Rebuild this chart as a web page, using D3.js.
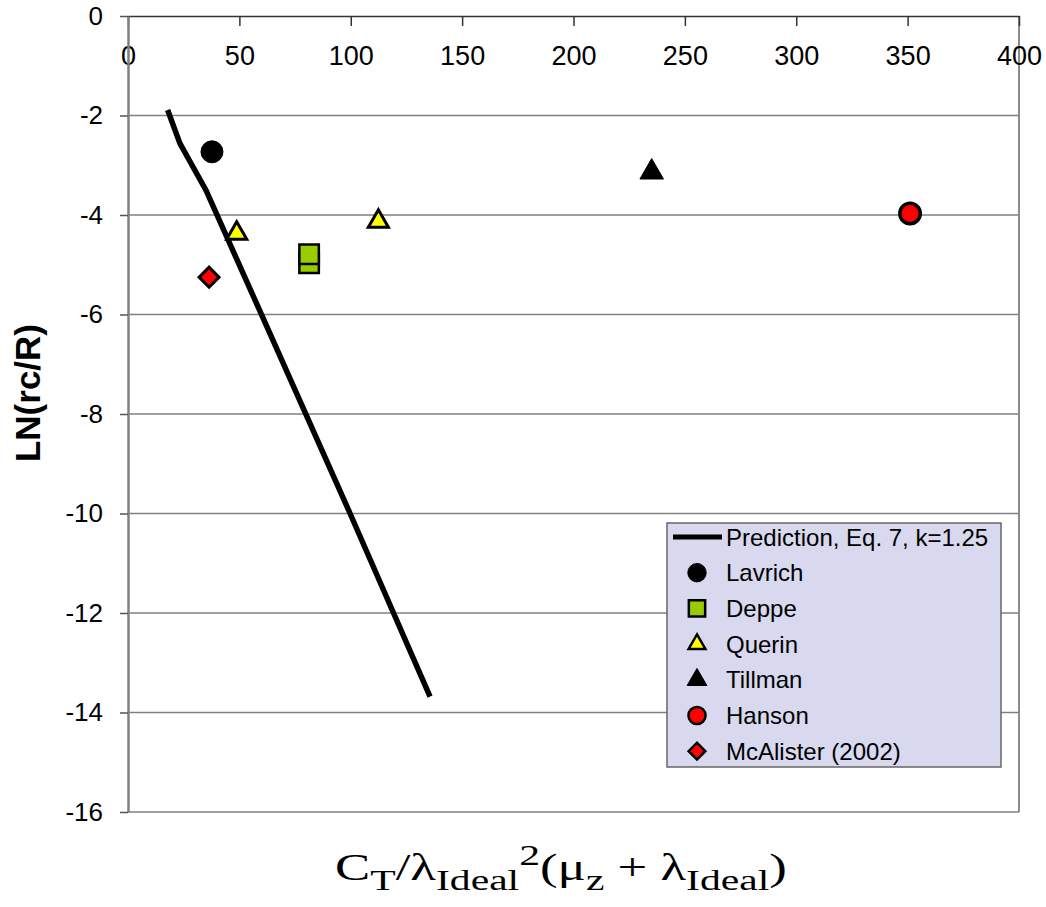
<!DOCTYPE html>
<html>
<head>
<meta charset="utf-8">
<script src="https://cdn.jsdelivr.net/npm/d3@7"></script>
<style>
  body { margin: 0; background: #fff; }
  text { font-family: "Liberation Sans", Arial, sans-serif; }
</style>
</head>
<body>
<div id="chart"></div>
<script>
  // data
  let predictionData = [[17.8, -1.89], [23.3, -2.56], [35, -3.5], [60.6, -6.07], [99.7, -10.0], [135.6, -13.68]];
  let lavrichData = [[37.7, -2.73]];
  let deppeData = [[81.3, -4.97], [81.3, -4.79]];
  let querinData = [[48.8, -4.37], [112.4, -4.13]];
  let tillmanData = [[235.1, -3.14]];
  let hansonData = [[351.1, -3.97]];
  let mcalisterData = [[36.4, -5.25]];

  let xTicks = [0, 50, 100, 150, 200, 250, 300, 350, 400];
  let yTicks = [0, -2, -4, -6, -8, -10, -12, -14, -16];
  let legendLabels = ["Prediction, Eq. 7, k=1.25", "Lavrich", "Deppe", "Querin", "Tillman", "Hanson", "McAlister (2002)"];

  let width = 1046, height = 907;
  let plot = { left: 128, right: 1019, top: 16, bottom: 812 };

  let svg = d3.select("#chart").append("svg")
              .attr("width", width)
              .attr("height", height);

  let x = d3.scaleLinear().domain([0, 400]).range([plot.left, plot.right]);
  let y = d3.scaleLinear().domain([-16, 0]).range([plot.bottom, plot.top]);

  // marker styles per series
  let series = [
    { data: lavrichData, shape: d3.symbolCircle, size: 380, fill: "#000", stroke: "#000", sw: 1, rot: 0 },
    { data: deppeData, shape: d3.symbolSquare, size: 380, fill: "#99cc00", stroke: "#000", sw: 2.5, rot: 0 },
    { data: querinData, shape: d3.symbolTriangle, size: 175, fill: "#ffff00", stroke: "#000", sw: 3, rot: 0 },
    { data: tillmanData, shape: d3.symbolTriangle, size: 240, fill: "#000", stroke: "#000", sw: 1, rot: 0 },
    { data: hansonData, shape: d3.symbolCircle, size: 330, fill: "#ff0000", stroke: "#000", sw: 3.5, rot: 0 },
    { data: mcalisterData, shape: d3.symbolSquare, size: 200, fill: "#ff0000", stroke: "#000", sw: 3, rot: 45 }
  ];

  // gridlines
  svg.append("g")
     .attr("class", "grid")
     .selectAll("line")
     .data(yTicks.filter(d => d < 0))
     .enter()
     .append("line")
     .attr("x1", plot.left)
     .attr("x2", plot.right)
     .attr("y1", d => y(d))
     .attr("y2", d => y(d))
     .attr("stroke", "#7f7f7f")
     .attr("stroke-width", 1.5);

  // right border
  svg.append("line")
     .attr("x1", plot.right).attr("x2", plot.right)
     .attr("y1", plot.top).attr("y2", plot.bottom)
     .attr("stroke", "#8c8c8c")
     .attr("stroke-width", 2);

  // x axis sits on y = 0 at the top, labels hang below
  let xAxis = svg.append("g")
                 .attr("transform", "translate(0," + y(0) + ")")
                 .call(d3.axisBottom(x).tickValues(xTicks).tickSize(10).tickPadding(20).tickSizeOuter(0).tickFormat(d => String(d)));
  xAxis.select(".domain").attr("stroke", "#333").attr("stroke-width", 1.5);
  xAxis.selectAll(".tick line").attr("stroke", "#333").attr("stroke-width", 1.5);
  xAxis.selectAll("text")
       .attr("fill", "#000")
       .style("font-size", "27px")
       .style("font-family", "'Liberation Sans', Arial, sans-serif");

  let yAxis = svg.append("g")
                 .attr("transform", "translate(" + plot.left + ",0)")
                 .call(d3.axisLeft(y).tickValues(yTicks).tickSize(8).tickPadding(17).tickSizeOuter(0).tickFormat(d => String(d)));
  yAxis.select(".domain").attr("stroke", "#808080").attr("stroke-width", 2.5);
  yAxis.selectAll(".tick line").attr("stroke", "#555").attr("stroke-width", 1.5);
  yAxis.selectAll("text")
       .attr("fill", "#000")
       .style("font-size", "26px")
       .style("font-family", "'Liberation Sans', Arial, sans-serif");

  // prediction line
  let line = d3.line().x(d => x(d[0])).y(d => y(d[1]));
  svg.append("path")
     .datum(predictionData)
     .attr("d", line)
     .attr("fill", "none")
     .attr("stroke", "#000")
     .attr("stroke-width", 5.5);

  // markers
  series.forEach(function(s) {
    svg.append("g")
       .selectAll("path")
       .data(s.data)
       .enter()
       .append("path")
       .attr("d", d3.symbol().type(s.shape).size(s.size))
       .attr("transform", d => "translate(" + x(d[0]) + "," + y(d[1]) + ") rotate(" + s.rot + ")")
       .attr("fill", s.fill)
       .attr("stroke", s.stroke)
       .attr("stroke-width", s.sw);
  });

  // legend
  let legend = svg.append("g").attr("class", "legend");
  legend.append("rect")
        .attr("x", 667).attr("y", 523)
        .attr("width", 334).attr("height", 244)
        .attr("fill", "#d8d8ee")
        .attr("stroke", "#666")
        .attr("stroke-width", 1.5);

  let rowY = i => 537 + i * 35.7;

  legend.append("line")
        .attr("x1", 673).attr("x2", 722)
        .attr("y1", rowY(0)).attr("y2", rowY(0))
        .attr("stroke", "#000")
        .attr("stroke-width", 5);

  series.forEach(function(s, i) {
    legend.append("path")
          .attr("d", d3.symbol().type(s.shape).size(s.size * 0.7))
          .attr("transform", "translate(697," + rowY(i + 1) + ") rotate(" + s.rot + ")")
          .attr("fill", s.fill)
          .attr("stroke", s.stroke)
          .attr("stroke-width", Math.min(s.sw, 2.5));
  });

  legend.selectAll("text")
        .data(legendLabels)
        .enter()
        .append("text")
        .attr("x", 726)
        .attr("y", (d, i) => rowY(i))
        .attr("dy", "0.36em")
        .style("font-size", "24px")
        .text(d => d);

  // axis titles
  svg.append("text")
     .attr("transform", "translate(40,393) rotate(-90)")
     .attr("text-anchor", "middle")
     .style("font-size", "35px")
     .style("font-weight", "bold")
     .text("LN(rc/R)");

  // x title is stretched sideways in the original, fit it to its width there
  let titleLeft = 335, titleRight = 787;
  let xTitle = svg.append("text")
                  .attr("text-anchor", "middle")
                  .style("font-family", "'Liberation Serif', 'Times New Roman', serif")
                  .style("font-size", "38px");
  let parts = [
    ["C", 0], ["T", 1], ["/λ", 0], ["Ideal", 1], ["2", -1], ["(μ", 0], ["z", 1], [" + λ", 0], ["Ideal", 1], [")", 0]
  ];
  let prevShift = 0;
  parts.forEach(function(p) {
    let shift = p[1] == 1 ? 10 : (p[1] == -1 ? -15 : 0);
    xTitle.append("tspan")
          .attr("dy", shift - prevShift)
          .style("font-size", p[1] == 0 ? "38px" : "30px")
          .text(p[0]);
    prevShift = shift;
  });
  let tb = xTitle.node().getBBox();
  let sx = (titleRight - titleLeft) / tb.width;
  xTitle.attr("transform", "translate(" + ((titleLeft + titleRight) / 2 - (tb.x + tb.width / 2) * sx) + ",880) scale(" + sx + ",1)");
</script>
</body>
</html>
